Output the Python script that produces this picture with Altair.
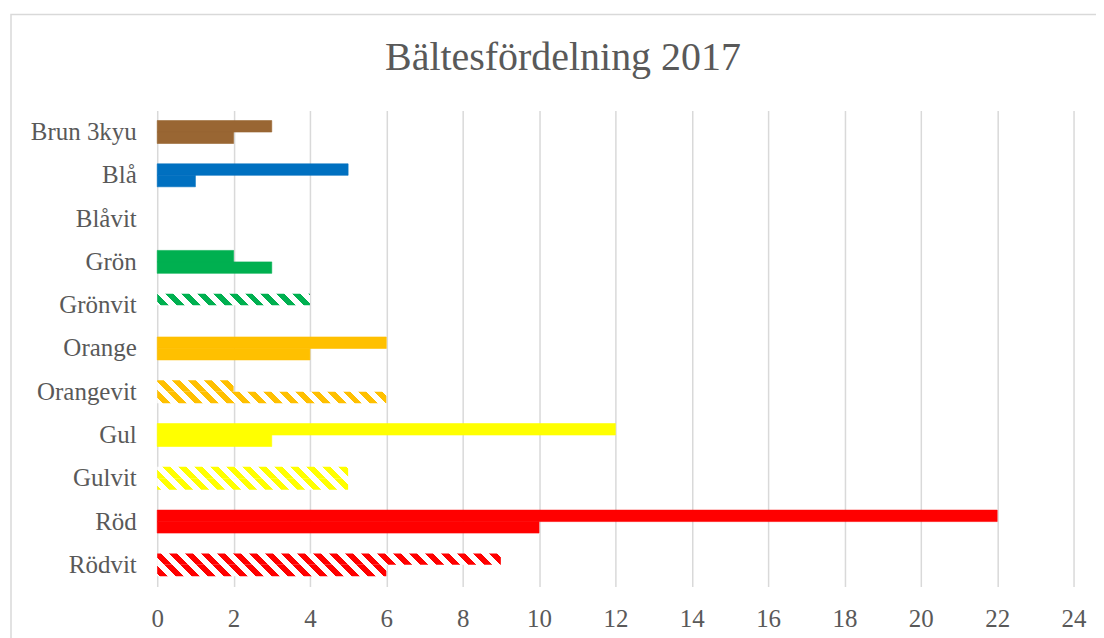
import math
import altair as alt
import pandas as pd

# ---- data ----
categories = ["Brun 3kyu", "Blå", "Blåvit", "Grön", "Grönvit", "Orange",
              "Orangevit", "Gul", "Gulvit", "Röd", "Rödvit"]
serie_upper = [3, 5, 0, 2, 4, 6, 2, 12, 5, 22, 9]   # upper bar in each pair
serie_lower = [2, 1, 0, 3, 0, 4, 6, 3, 5, 10, 6]    # lower bar in each pair
belt_colors = ["#996633", "#0070C0", "#9DC3E6", "#00B050", "#00B050", "#FFC000",
               "#FFC000", "#FFFF00", "#FFFF00", "#FF0000", "#FF0000"]
hatched = [False, False, True, False, True, False, True, False, True, False, True]
x_ticks = list(range(0, 25, 2))
series_names = ["Serie 2", "Serie 1"]  # top, bottom
title_text = "Bältesfördelning 2017"

rows = []
for i, c in enumerate(categories):
    rows.append({"bälte": c, "serie": series_names[0], "antal": serie_upper[i], "hatch": hatched[i]})
    rows.append({"bälte": c, "serie": series_names[1], "antal": serie_lower[i], "hatch": hatched[i]})
df = pd.DataFrame(rows)

# ---- layout ----
W, H = 918, 477
PAD_L, PAD_T = 149.5, 102
PAD_R = 1090 - PAD_L - W
PAD_B = 630 - PAD_T - H
P_INNER = 0.47
STEP = H / len(categories)
BAND = STEP * (1 - P_INNER)
BAR_H = BAND / 2
PX_PER_UNIT = W / 24.0
FONT = "Liberation Serif"
TEXT = "#595959"
GRID = "#D9D9D9"


def stripe_gradient(color, w, h, y0, period=16.0, duty=0.5):
    """Diagonal '\\' stripes (coloured / white) as a hard-stop linear gradient."""
    L = w + h
    c = h + y0

    def col(g):
        return color if (g % period) < period * duty else "#FFFFFF"

    bps = []
    n = math.floor(-c / period) - 1
    while c + n * period <= L + period:
        for off in (0.0, period * duty):
            b = c + n * period + off
            if 0 < b < L:
                bps.append(b)
        n += 1
    bps.sort()
    stops = [alt.GradientStop(color=col(-c + 1e-6), offset=0)]
    for b in bps:
        t = round(b / L, 6)
        stops.append(alt.GradientStop(color=col(b - c - 1e-6), offset=t))
        stops.append(alt.GradientStop(color=col(b - c + 1e-6), offset=t))
    stops.append(alt.GradientStop(color=col(L - c - 1e-6), offset=1))
    du = (w + h) / (w + h * h / w)
    return alt.LinearGradient(gradient="linear", stops=stops,
                              x1=0, y1=1, x2=du, y2=1 - du * h / w)


x_enc = alt.X("antal:Q", scale=alt.Scale(domain=[0, 24], nice=False, zero=True),
              axis=alt.Axis(values=x_ticks, grid=True, gridColor=GRID, gridWidth=1.5,
                            domain=False, ticks=False, labelPadding=20,
                            labelFlush=False, labelOverlap=False, title=None))
y_enc = alt.Y("bälte:N", sort=categories,
              scale=alt.Scale(domain=categories, paddingInner=P_INNER,
                              paddingOuter=P_INNER / 2),
              axis=alt.Axis(domain=False, ticks=False, grid=False, labelPadding=21,
                            title=None))
yoff_enc = alt.YOffset("serie:N", sort=series_names,
                       scale=alt.Scale(domain=series_names, paddingInner=0,
                                       paddingOuter=0))

base = alt.Chart(df)

belt_scale = alt.Scale(domain=categories, range=belt_colors)
solid = base.transform_filter("!datum.hatch").mark_bar(strokeWidth=0.6).encode(
    x=x_enc, y=y_enc, yOffset=yoff_enc,
    color=alt.Color("bälte:N", scale=belt_scale, legend=None),
    stroke=alt.Stroke("bälte:N", scale=belt_scale, legend=None),
)

layers = []
for i, c in enumerate(categories):
    if not hatched[i]:
        continue
    for j, (sname, vals) in enumerate(zip(series_names, [serie_upper, serie_lower])):
        v = vals[i]
        if v <= 0:
            continue
        w = v * PX_PER_UNIT
        y0 = STEP * (P_INNER / 2 + i) + j * BAR_H
        grad = stripe_gradient(belt_colors[i], w, BAR_H, y0)
        layers.append(
            base.transform_filter(
                (alt.datum["bälte"] == c) & (alt.datum.serie == sname)
            ).mark_bar(color=grad).encode(x=x_enc, y=y_enc, yOffset=yoff_enc)
        )

deco = alt.Chart(pd.DataFrame({"a": [0]}))
border = deco.mark_rect(fillOpacity=0, stroke=GRID, strokeWidth=1.5).encode(
    x=alt.value(-146.5), x2=alt.value(W + 300),
    y=alt.value(-96), y2=alt.value(H + 300),
)
title = deco.mark_text(font=FONT, fontSize=40, color=TEXT, align="center",
                       baseline="alphabetic").encode(
    x=alt.value(406.5), y=alt.value(-40), text=alt.value(title_text),
)

chart = alt.layer(border, title, solid, *layers).properties(
    width=W, height=H,
    autosize=alt.AutoSizeParams(type="none"),
    padding={"left": PAD_L, "top": PAD_T, "right": PAD_R, "bottom": PAD_B},
).configure_view(stroke=None).configure_axis(
    labelFont=FONT, labelFontSize=25, labelColor=TEXT,
)

chart.save("out.html", embed_options={"renderer": "svg", "actions": False})
